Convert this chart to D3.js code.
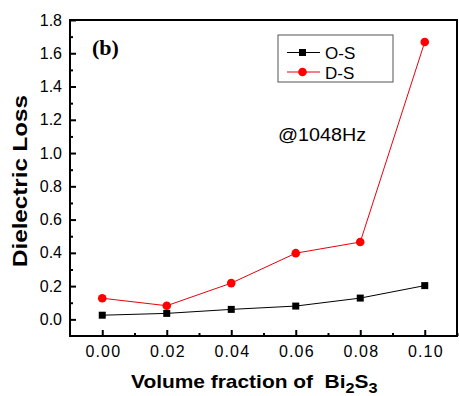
<!DOCTYPE html>
<html><head><meta charset="utf-8">
<script src="https://cdn.jsdelivr.net/npm/d3@7"></script>
<style>body{margin:0;background:#fff}</style>
</head><body><svg id="c" width="459" height="396"></svg>
<script>
const fractions = [0.00, 0.02, 0.04, 0.06, 0.08, 0.10];
const osValues = [0.025, 0.036, 0.06, 0.08, 0.128, 0.203];
const dsValues = [0.127, 0.082, 0.218, 0.398, 0.465, 1.668];
const xTicks = [0.00, 0.02, 0.04, 0.06, 0.08, 0.10];
const yTicks = [0.0, 0.2, 0.4, 0.6, 0.8, 1.0, 1.2, 1.4, 1.6, 1.8];

const FONT = "Arial, 'Liberation Sans', sans-serif";
const svg = d3.select("#c");
const L = 70, R = 457, T = 20, B = 336;
const x = d3.scaleLinear().domain([-0.01, 0.11]).range([L, R]);
const y = d3.scaleLinear().domain([-0.1, 1.8]).range([B, T]);

// frame
svg.append("rect").attr("x", L).attr("y", T).attr("width", R - L).attr("height", B - T)
  .attr("fill", "none").attr("stroke", "#000").attr("stroke-width", 2);

// x axis ticks (inward)
const xMinor = d3.range(0, 0.111, 0.01).map(v => +v.toFixed(3)).filter(v => !xTicks.some(t => Math.abs(t - v) < 1e-6));
const gx = svg.append("g").attr("transform", `translate(0,${B})`)
  .call(d3.axisBottom(x).tickValues(xTicks).tickFormat(d3.format(".2f")).tickSize(-6).tickPadding(10));
gx.select(".domain").remove();
gx.selectAll("line").attr("stroke-width", 2);
gx.selectAll("text").attr("font-family", FONT).attr("font-size", 16).attr("letter-spacing", 1.2)
  .attr("dx", 0.6).attr("fill", "#000");
const gxm = svg.append("g").attr("transform", `translate(0,${B})`)
  .call(d3.axisBottom(x).tickValues(xMinor).tickSize(-3).tickFormat(""));
gxm.select(".domain").remove();
gxm.selectAll("line").attr("stroke-width", 2);

// y axis ticks
const yMinor = d3.range(-0.1, 1.81, 0.1).map(v => +v.toFixed(2)).filter(v => v > -0.1 && v < 1.8 && !yTicks.some(t => Math.abs(t - v) < 1e-6));
const gy = svg.append("g").attr("transform", `translate(${L},0)`)
  .call(d3.axisLeft(y).tickValues(yTicks).tickFormat(d3.format(".1f")).tickSize(-6).tickPadding(8));
gy.select(".domain").remove();
gy.selectAll("line").attr("stroke-width", 2);
gy.selectAll("text").attr("font-family", FONT).attr("font-size", 16).attr("fill", "#000");
const gym = svg.append("g").attr("transform", `translate(${L},0)`)
  .call(d3.axisLeft(y).tickValues(yMinor).tickSize(-3).tickFormat(""));
gym.select(".domain").remove();
gym.selectAll("line").attr("stroke-width", 2);

// lines
const line = d3.line().x(d => x(d[0])).y(d => y(d[1]));
const osData = fractions.map((f, i) => [f, osValues[i]]);
const dsData = fractions.map((f, i) => [f, dsValues[i]]);
svg.append("path").datum(osData).attr("d", line).attr("fill", "none").attr("stroke", "#000").attr("stroke-width", 1);
svg.append("path").datum(dsData).attr("d", line).attr("fill", "none").attr("stroke", "#e8000b").attr("stroke-width", 1);
svg.selectAll(".sq").data(osData).enter().append("rect")
  .attr("x", d => x(d[0]) - 3.5).attr("y", d => y(d[1]) - 3.5).attr("width", 7).attr("height", 7).attr("fill", "#000");
svg.selectAll(".ci").data(dsData).enter().append("circle")
  .attr("cx", d => x(d[0])).attr("cy", d => y(d[1])).attr("r", 4.3).attr("fill", "#ff0000");

// legend
const lg = svg.append("g");
lg.append("rect").attr("x", 278).attr("y", 35).attr("width", 115).attr("height", 47)
  .attr("fill", "#fff").attr("stroke", "#555").attr("stroke-width", 1);
lg.append("line").attr("x1", 287).attr("x2", 320).attr("y1", 52.5).attr("y2", 52.5).attr("stroke", "#000");
lg.append("rect").attr("x", 299).attr("y", 49).attr("width", 7).attr("height", 7).attr("fill", "#000");
lg.append("text").attr("x", 325).attr("y", 59).text("O-S");
lg.append("line").attr("x1", 287).attr("x2", 320).attr("y1", 72).attr("y2", 72).attr("stroke", "#e8000b");
lg.append("circle").attr("cx", 302.5).attr("cy", 72).attr("r", 4.3).attr("fill", "#ff0000");
lg.append("text").attr("x", 325).attr("y", 78.5).text("D-S");
lg.selectAll("text").attr("font-family", FONT).attr("font-size", 17).attr("fill", "#000");

// annotations
svg.append("text").attr("x", 92).attr("y", 55).text("(b)")
  .attr("font-family", "'Times New Roman', 'Liberation Serif', serif").attr("font-weight", "bold").attr("font-size", 22);
svg.append("text").attr("x", 278).attr("y", 141).text("@1048Hz")
  .attr("font-family", FONT).attr("font-size", 18).attr("textLength", 88).attr("lengthAdjust", "spacingAndGlyphs");

// axis titles
svg.append("text").attr("transform", "translate(27,181) rotate(-90)").attr("text-anchor", "middle")
  .attr("font-family", FONT).attr("font-weight", "bold").attr("font-size", 21)
  .attr("textLength", 172).attr("lengthAdjust", "spacingAndGlyphs")
  .text("Dielectric Loss");
const xt = svg.append("text").attr("x", 131).attr("y", 388)
  .attr("font-family", FONT).attr("font-weight", "bold").attr("font-size", 18);
xt.append("tspan").text("Volume fraction of  Bi").attr("xml:space", "preserve");
xt.append("tspan").attr("font-size", 14).attr("dy", 5).text("2");
xt.append("tspan").attr("dy", -5).text("S");
xt.append("tspan").attr("font-size", 14).attr("dy", 5).text("3");
xt.attr("style", "white-space:pre");
// stretch x title horizontally to match the reference width
const bb = xt.node().getBBox();
const sx = 247 / bb.width;
xt.attr("transform", `translate(${131 - 131 * sx},0) scale(${sx},1)`);
</script></body></html>
